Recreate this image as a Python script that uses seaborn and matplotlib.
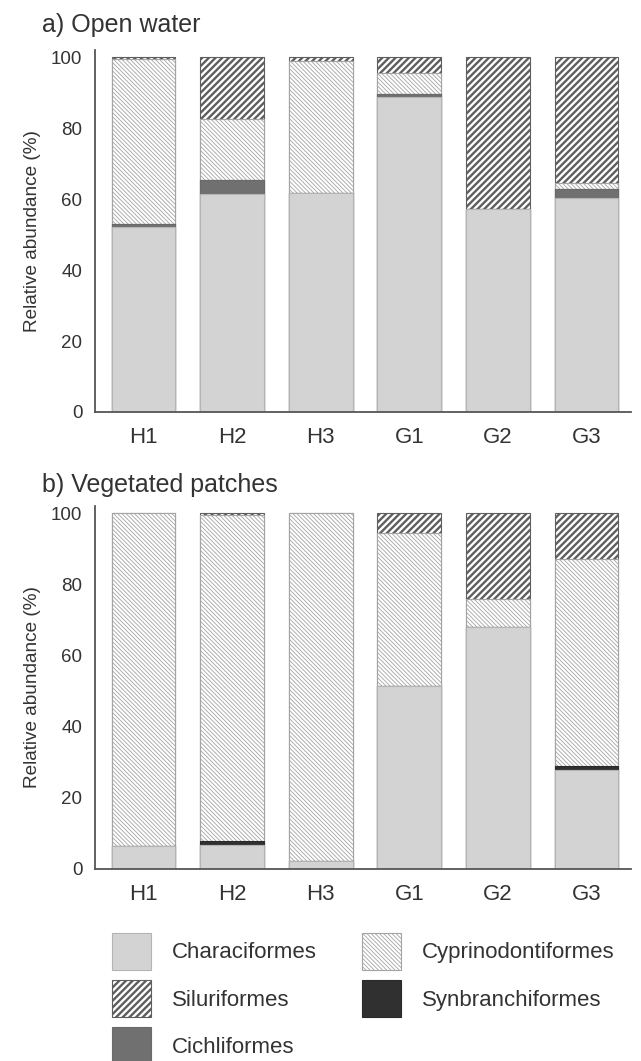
import numpy as np
import pandas as pd
import seaborn as sns
import matplotlib as mpl
import matplotlib.pyplot as plt
from matplotlib.patches import Patch

sites = ["H1", "H2", "H3", "G1", "G2", "G3"]
orders = ["Characiformes", "Cichliformes", "Synbranchiformes",
          "Cyprinodontiformes", "Siluriformes"]

# a) open water, % per order (bottom -> top)
open_characi = [52.0, 61.5, 61.7, 88.8, 57.3, 60.4]
open_cichli = [1.0, 3.8, 0.0, 0.7, 0.0, 2.4]
open_synbr = [0.0, 0.0, 0.0, 0.0, 0.0, 0.0]
open_cyprino = [46.4, 17.3, 37.2, 5.9, 0.0, 1.8]
open_siluri = [0.6, 17.4, 1.1, 4.6, 42.7, 35.4]

# b) vegetated patches
veg_characi = [6.5, 6.6, 2.1, 51.4, 68.0, 27.8]
veg_cichli = [0.0, 0.0, 0.0, 0.0, 0.0, 0.0]
veg_synbr = [0.0, 1.3, 0.0, 0.0, 0.0, 1.2]
veg_cyprino = [93.5, 91.6, 97.9, 42.9, 7.8, 58.2]
veg_siluri = [0.0, 0.5, 0.0, 5.7, 24.2, 12.8]

styles = {
    "Characiformes": dict(color="#d3d3d3", edgecolor="#b4b4b4", hatch=None),
    "Cichliformes": dict(color="#707070", edgecolor="#6a6a6a", hatch=None),
    "Synbranchiformes": dict(color="#303030", edgecolor="#2a2a2a", hatch=None),
    "Cyprinodontiformes": dict(color="white", edgecolor="#a4a4a4", hatch="\\" * 8),
    "Siluriformes": dict(color="white", edgecolor="#5e5e5e", hatch="/////"),
}
hatch_lw = {"Cyprinodontiformes": 0.6, "Siluriformes": 1.7}


def long_table(values):
    df = pd.DataFrame(values, index=orders, columns=sites)
    tops = df.cumsum()
    out = tops.stack().reset_index()
    out.columns = ["order", "site", "top"]
    return out


def draw_panel(ax, values):
    data = long_table(values)
    # overlay cumulative bars, tallest first
    for order in orders[::-1]:
        st = styles[order]
        before = len(ax.patches)
        sns.barplot(data=data[data["order"] == order], x="site", y="top",
                    order=sites, color=st["color"], edgecolor=st["edgecolor"],
                    hatch=st["hatch"], linewidth=0.8, width=0.72,
                    saturation=1, errorbar=None, ax=ax)
        if order in hatch_lw:
            for p in ax.patches[before:]:
                if hasattr(p, "set_hatch_linewidth"):
                    p.set_hatch_linewidth(hatch_lw[order])
    ax.set_xlim(-0.55, 5.5)
    ax.set_ylim(0, 102)
    ax.set_yticks([0, 20, 40, 60, 80, 100])
    ax.set_xlabel(None)
    ax.set_ylabel("Relative abundance (%)", fontsize=13.7, color="#333333", labelpad=7)
    ax.tick_params(axis="y", length=4, width=1.2, color="#555555",
                   labelsize=13.5, labelcolor="#333333", pad=5)
    ax.tick_params(axis="x", length=0, labelsize=16, labelcolor="#333333", pad=11)
    sns.despine(ax=ax)
    for s in ["left", "bottom"]:
        ax.spines[s].set_color("#555555")
        ax.spines[s].set_linewidth(1.3)


sns.set_style("white")
plt.rcParams["font.family"] = ["Liberation Sans", "DejaVu Sans"]

fig = plt.figure(figsize=(6.41, 10.61), dpi=100)
ax1 = fig.add_axes([0.148, 0.6117, 0.836, 0.3412])
ax2 = fig.add_axes([0.148, 0.181, 0.836, 0.342])

draw_panel(ax1, [open_characi, open_cichli, open_synbr, open_cyprino, open_siluri])
draw_panel(ax2, [veg_characi, veg_cichli, veg_synbr, veg_cyprino, veg_siluri])

fig.text(42 / 641, 0.9696, "a) Open water", fontsize=18, color="#333333", va="baseline")
fig.text(42 / 641, 0.536, "b) Vegetated patches", fontsize=18, color="#333333", va="baseline")

legend_order = ["Characiformes", "Siluriformes", "Cichliformes",
                "Cyprinodontiformes", "Synbranchiformes"]
handles = []
for name in legend_order:
    st = styles[name]
    h = Patch(facecolor=st["color"], edgecolor=st["edgecolor"], hatch=st["hatch"],
              linewidth=0.8, label=name)
    handles.append(h)

leg = fig.legend(handles=handles, ncol=2, loc="upper left",
                 bbox_to_anchor=(112 / 641, 1 - 933 / 1061),
                 frameon=False, fontsize=16, handlelength=1.76, handleheight=2.19,
                 labelspacing=0.45, handletextpad=0.95, columnspacing=2.0,
                 borderpad=0, borderaxespad=0)
for t in leg.get_texts():
    t.set_color("#333333")
for name, lh in zip(legend_order, leg.legend_handles):
    if name in hatch_lw and hasattr(lh, "set_hatch_linewidth"):
        lh.set_hatch_linewidth(hatch_lw[name])

fig.savefig("out.png", dpi=100)
